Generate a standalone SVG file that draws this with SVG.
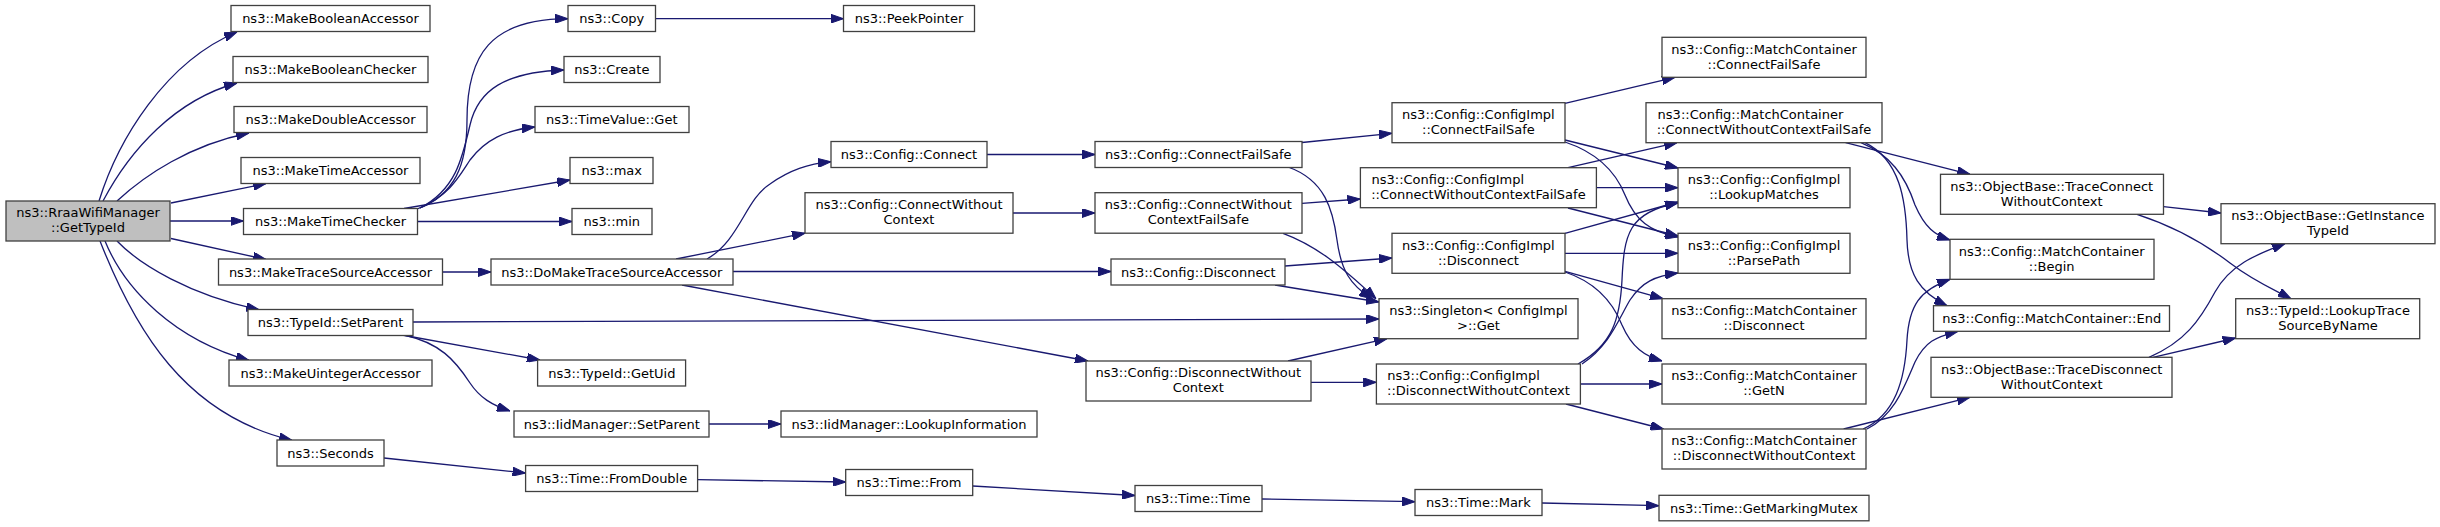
<svg xmlns="http://www.w3.org/2000/svg" width="2440" height="527" viewBox="0 0 2440 527">
<style>
.n rect{fill:#ffffff;stroke:#404040;stroke-width:1.3}
.n.m rect{fill:#bfbfbf}
text{font-family:"DejaVu Sans","Liberation Sans",sans-serif;font-size:13px;fill:#000000;text-anchor:middle}
text.l{text-anchor:start}
#edges path{fill:none;stroke:#191970;stroke-width:1.3;marker-end:url(#a)}
</style>
<defs>
<marker id="a" markerWidth="13" markerHeight="9" refX="13" refY="4.5" orient="auto" markerUnits="userSpaceOnUse">
<path d="M0,0 L13,4.5 L0,9 z" fill="#191970" stroke="#191970" stroke-width="1"/>
</marker>
</defs>
<rect width="2440" height="527" fill="#ffffff"/>
<g id="edges">
<path d="M99,201 C118,140 165,62 237,32"/>
<path d="M103,201 C130,150 175,100 237,83"/>
<path d="M117,201 C145,175 190,145 249,133"/>
<path d="M171,203 L266,183.5"/>
<path d="M170,221 L243.5,221"/>
<path d="M171,238.5 L266,259.5"/>
<path d="M117,241 C140,265 190,295 259,309.7"/>
<path d="M105,241 C125,290 175,340 249,360.3"/>
<path d="M100,241 C135,330 185,415 292,440.3"/>
<path d="M417,209 C455,195 467,165 467,120 C467,55 490,19 568,18.7"/>
<path d="M420,208 C455,190 462,160 470,125 C478,90 505,72 564,70"/>
<path d="M420,208 C450,195 460,175 470,160 C485,140 505,130 535,127"/>
<path d="M404,208.5 L570,180"/>
<path d="M417.5,221.5 L572,221.5"/>
<path d="M655.5,18.7 L843.5,18.7"/>
<path d="M442.5,272 L491,272"/>
<path d="M413,322 L1379,319"/>
<path d="M402,335 L540,360"/>
<path d="M404,335 C440,343 455,360 470,383 C480,398 492,405 510,411"/>
<path d="M384,458 L525.6,473"/>
<path d="M709,424 L781,424"/>
<path d="M697.6,479.7 L845.7,482"/>
<path d="M972.7,486 L1135,495.5"/>
<path d="M707,259 C740,240 745,200 770,184 C790,170 808,164 831,161.7"/>
<path d="M676,259 L805,233.2"/>
<path d="M733,271.5 L1111,271.5"/>
<path d="M682,285 L1088,361"/>
<path d="M987,154.5 L1095,154.5"/>
<path d="M1013,213 L1095,213"/>
<path d="M1302,142.5 L1392,133.3"/>
<path d="M1288,167 C1325,180 1333,210 1337,240 C1341,270 1350,285 1372,298.7"/>
<path d="M1283,233.3 C1315,245 1340,265 1376,298.7"/>
<path d="M1302,203.3 L1360.4,199"/>
<path d="M1285,266 L1392,258"/>
<path d="M1275,285 L1379,302"/>
<path d="M1288,361 L1387,338.7"/>
<path d="M1311,382.3 L1376.4,382.3"/>
<path d="M1262,499 L1415,501.7"/>
<path d="M1542,503 L1659,505.7"/>
<path d="M1565,103.3 L1675,77.3"/>
<path d="M1565,140 L1678,168"/>
<path d="M1565,142 C1595,152 1615,170 1625,195 C1635,220 1650,232 1678,237"/>
<path d="M1568,167.7 L1677,142.7"/>
<path d="M1596.4,187.7 L1678,187.7"/>
<path d="M1568,208 L1678,236"/>
<path d="M1565,233.3 L1678,202"/>
<path d="M1565,253.3 L1678,253.3"/>
<path d="M1565,271.3 L1663,298.7"/>
<path d="M1565,272 C1595,282 1612,300 1622,325 C1632,348 1645,356 1662,361"/>
<path d="M1578,364 C1612,345 1620,320 1622,280 C1624,235 1628,212 1678,203"/>
<path d="M1582,364 C1610,345 1618,320 1630,300 C1642,282 1655,276 1678,273"/>
<path d="M1580.4,384 L1662,384"/>
<path d="M1566,404 L1663.5,429"/>
<path d="M1845.6,142.7 L1970,174.3"/>
<path d="M1861,142.7 C1890,155 1905,175 1915,205 C1925,228 1935,235 1950,240"/>
<path d="M1865,142.7 C1900,160 1906,200 1907,240 C1908,275 1920,292 1947,305.7"/>
<path d="M1863,429 C1895,415 1905,380 1907,340 C1909,305 1920,290 1950,279.3"/>
<path d="M1867,429 C1895,415 1905,385 1915,362 C1925,342 1935,337 1958,331.3"/>
<path d="M1843.6,429 L1970,397.3"/>
<path d="M2163.5,206.7 L2221,213"/>
<path d="M2137,214.3 C2170,225 2200,240 2230,263 C2255,282 2275,290 2291,298.7"/>
<path d="M2149,357.3 C2185,342 2200,320 2215,292 C2230,265 2255,255 2285,243.7"/>
<path d="M2153,357.3 L2235.7,338"/>
</g>
<g id="n0" class="n m"><rect x="6" y="201" width="164" height="40"/><text x="88" y="217.3">ns3::RraaWifiManager</text><text x="88" y="232.3">::GetTypeId</text></g>
<g id="n1" class="n"><rect x="231" y="5.5" width="199" height="26"/><text x="330.5" y="23">ns3::MakeBooleanAccessor</text></g>
<g id="n2" class="n"><rect x="233" y="56.5" width="195" height="26"/><text x="330.5" y="74">ns3::MakeBooleanChecker</text></g>
<g id="n3" class="n"><rect x="234" y="106.5" width="193" height="26"/><text x="330.5" y="124">ns3::MakeDoubleAccessor</text></g>
<g id="n4" class="n"><rect x="241" y="157.5" width="179" height="26"/><text x="330.5" y="175">ns3::MakeTimeAccessor</text></g>
<g id="n5" class="n"><rect x="243.5" y="208.5" width="174" height="26"/><text x="330.5" y="226">ns3::MakeTimeChecker</text></g>
<g id="n6" class="n"><rect x="218.5" y="259" width="224" height="26"/><text x="330.5" y="276.5">ns3::MakeTraceSourceAccessor</text></g>
<g id="n7" class="n"><rect x="248" y="309.5" width="165" height="26"/><text x="330.5" y="327">ns3::TypeId::SetParent</text></g>
<g id="n8" class="n"><rect x="229" y="360" width="203" height="26"/><text x="330.5" y="377.5">ns3::MakeUintegerAccessor</text></g>
<g id="n9" class="n"><rect x="277" y="440" width="107" height="26"/><text x="330.5" y="457.5">ns3::Seconds</text></g>
<g id="n10" class="n"><rect x="568" y="5.5" width="87.5" height="26"/><text x="611.8" y="23">ns3::Copy</text></g>
<g id="n11" class="n"><rect x="564" y="56.5" width="96" height="26"/><text x="611.8" y="74">ns3::Create</text></g>
<g id="n12" class="n"><rect x="535" y="106.5" width="154" height="26"/><text x="611.8" y="124">ns3::TimeValue::Get</text></g>
<g id="n13" class="n"><rect x="570" y="157.5" width="83" height="26"/><text x="611.8" y="175">ns3::max</text></g>
<g id="n14" class="n"><rect x="572" y="208.5" width="80" height="26"/><text x="611.8" y="226">ns3::min</text></g>
<g id="n15" class="n"><rect x="491" y="259" width="242" height="26"/><text x="611.8" y="276.5">ns3::DoMakeTraceSourceAccessor</text></g>
<g id="n16" class="n"><rect x="537.6" y="360" width="148" height="26"/><text x="611.8" y="377.5">ns3::TypeId::GetUid</text></g>
<g id="n17" class="n"><rect x="514" y="411" width="195" height="26"/><text x="611.8" y="428.5">ns3::IidManager::SetParent</text></g>
<g id="n18" class="n"><rect x="525.6" y="465.5" width="172" height="26"/><text x="611.8" y="483">ns3::Time::FromDouble</text></g>
<g id="n19" class="n"><rect x="843.5" y="5.5" width="131" height="26"/><text x="909" y="23">ns3::PeekPointer</text></g>
<g id="n20" class="n"><rect x="831" y="141.5" width="156" height="26"/><text x="909" y="159">ns3::Config::Connect</text></g>
<g id="n21" class="n"><rect x="805" y="192.7" width="208" height="40.5"/><text x="909" y="209">ns3::Config::ConnectWithout</text><text x="909" y="224">Context</text></g>
<g id="n22" class="n"><rect x="781" y="411" width="256" height="26"/><text x="909" y="428.5">ns3::IidManager::LookupInformation</text></g>
<g id="n23" class="n"><rect x="845.7" y="469.5" width="127" height="26"/><text x="909" y="487">ns3::Time::From</text></g>
<g id="n24" class="n"><rect x="1095" y="141.5" width="207" height="26"/><text x="1198.3" y="159">ns3::Config::ConnectFailSafe</text></g>
<g id="n25" class="n"><rect x="1095" y="192.7" width="207" height="40.5"/><text x="1198.3" y="209">ns3::Config::ConnectWithout</text><text x="1198.3" y="224">ContextFailSafe</text></g>
<g id="n26" class="n"><rect x="1111" y="259" width="174" height="26"/><text x="1198.3" y="276.5">ns3::Config::Disconnect</text></g>
<g id="n27" class="n"><rect x="1086" y="361" width="225" height="40"/><text x="1198.3" y="377.3">ns3::Config::DisconnectWithout</text><text x="1198.3" y="392.3">Context</text></g>
<g id="n28" class="n"><rect x="1135" y="485.5" width="127" height="26"/><text x="1198.3" y="503">ns3::Time::Time</text></g>
<g id="n29" class="n"><rect x="1392" y="102.7" width="173" height="40"/><text x="1478.4" y="119">ns3::Config::ConfigImpl</text><text x="1478.4" y="134">::ConnectFailSafe</text></g>
<g id="n30" class="n"><rect x="1360.4" y="167.7" width="236" height="40"/><text class="l" x="1371.5" y="184">ns3::Config::ConfigImpl</text><text x="1478.4" y="199">::ConnectWithoutContextFailSafe</text></g>
<g id="n31" class="n"><rect x="1392" y="233.3" width="173" height="40"/><text x="1478.4" y="249.6">ns3::Config::ConfigImpl</text><text x="1478.4" y="264.6">::Disconnect</text></g>
<g id="n32" class="n"><rect x="1379" y="298.7" width="199" height="40"/><text x="1478.4" y="315">ns3::Singleton&lt; ConfigImpl</text><text x="1478.4" y="330">&gt;::Get</text></g>
<g id="n33" class="n"><rect x="1376.4" y="364" width="204" height="40"/><text class="l" x="1387.3" y="380.3">ns3::Config::ConfigImpl</text><text x="1478.4" y="395.3">::DisconnectWithoutContext</text></g>
<g id="n34" class="n"><rect x="1415" y="489.5" width="127" height="26"/><text x="1478.4" y="507">ns3::Time::Mark</text></g>
<g id="n35" class="n"><rect x="1662" y="37.3" width="204" height="40"/><text x="1764" y="53.6">ns3::Config::MatchContainer</text><text x="1764" y="68.6">::ConnectFailSafe</text></g>
<g id="n36" class="n"><rect x="1646" y="102.7" width="236" height="40"/><text class="l" x="1657.6" y="119">ns3::Config::MatchContainer</text><text x="1764" y="134">::ConnectWithoutContextFailSafe</text></g>
<g id="n37" class="n"><rect x="1678" y="167.7" width="172" height="40"/><text x="1764" y="184">ns3::Config::ConfigImpl</text><text x="1764" y="199">::LookupMatches</text></g>
<g id="n38" class="n"><rect x="1678" y="233.3" width="172" height="40"/><text x="1764" y="249.6">ns3::Config::ConfigImpl</text><text x="1764" y="264.6">::ParsePath</text></g>
<g id="n39" class="n"><rect x="1662" y="298.7" width="204" height="40"/><text x="1764" y="315">ns3::Config::MatchContainer</text><text x="1764" y="330">::Disconnect</text></g>
<g id="n40" class="n"><rect x="1662" y="364" width="204" height="40"/><text x="1764" y="380.3">ns3::Config::MatchContainer</text><text x="1764" y="395.3">::GetN</text></g>
<g id="n41" class="n"><rect x="1662" y="429" width="204" height="40"/><text x="1764" y="445.3">ns3::Config::MatchContainer</text><text x="1764" y="460.3">::DisconnectWithoutContext</text></g>
<g id="n42" class="n"><rect x="1659" y="495.3" width="210" height="25.5"/><text x="1764" y="512.8">ns3::Time::GetMarkingMutex</text></g>
<g id="n43" class="n"><rect x="1940.5" y="174.3" width="223" height="40"/><text x="2051.7" y="190.6">ns3::ObjectBase::TraceConnect</text><text x="2051.7" y="205.6">WithoutContext</text></g>
<g id="n44" class="n"><rect x="1950" y="239.3" width="204" height="40"/><text x="2051.7" y="255.6">ns3::Config::MatchContainer</text><text x="2051.7" y="270.6">::Begin</text></g>
<g id="n45" class="n"><rect x="1933.5" y="305.7" width="236" height="25.6"/><text x="2051.7" y="323">ns3::Config::MatchContainer::End</text></g>
<g id="n46" class="n"><rect x="1931" y="357.3" width="241" height="40"/><text x="2051.7" y="373.6">ns3::ObjectBase::TraceDisconnect</text><text x="2051.7" y="388.6">WithoutContext</text></g>
<g id="n47" class="n"><rect x="2221" y="203.7" width="214" height="40"/><text x="2328" y="220">ns3::ObjectBase::GetInstance</text><text x="2328" y="235">TypeId</text></g>
<g id="n48" class="n"><rect x="2235.7" y="298.7" width="184" height="40"/><text x="2328" y="315">ns3::TypeId::LookupTrace</text><text x="2328" y="330">SourceByName</text></g>
</svg>
